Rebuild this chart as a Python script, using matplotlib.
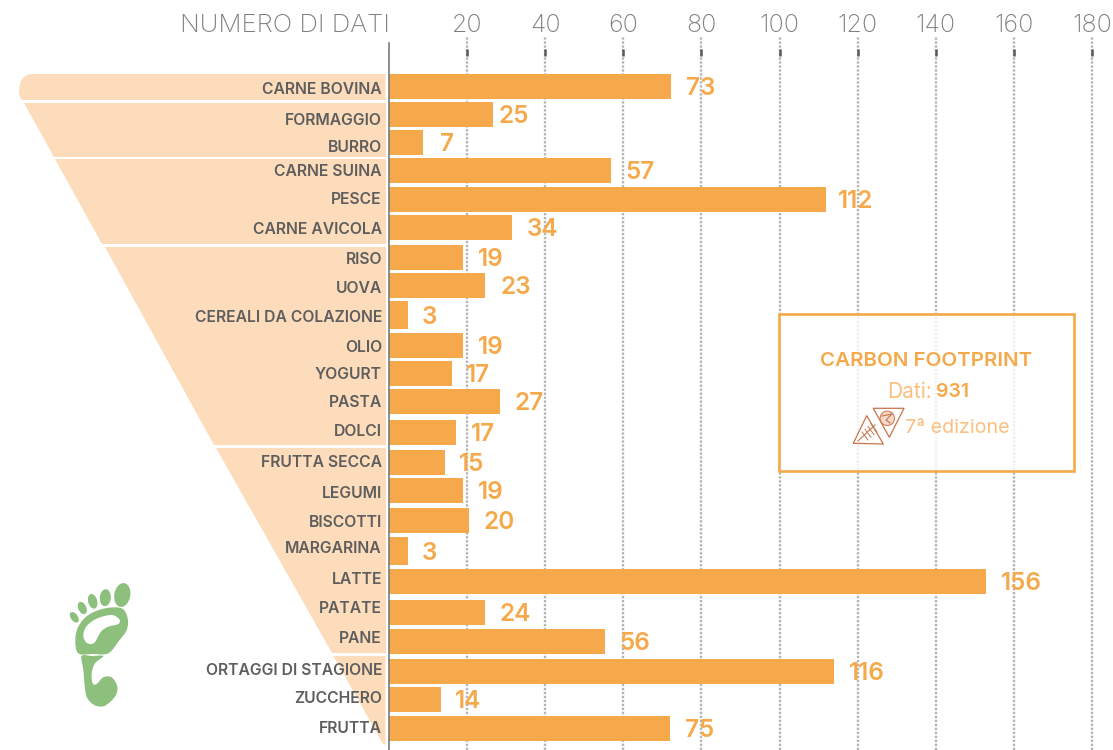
"""Carbon footprint: numero di dati per alimento."""

import matplotlib

matplotlib.use("Agg")
import matplotlib.pyplot as plt
import numpy as np
from matplotlib.patches import Circle, Ellipse, PathPatch, Polygon, Rectangle
from matplotlib.path import Path

plt.rcParams["font.family"] = ["Inter", "DejaVu Sans"]

categories = [
    "CARNE BOVINA", "FORMAGGIO", "BURRO", "CARNE SUINA", "PESCE", "CARNE AVICOLA",
    "RISO", "UOVA", "CEREALI DA COLAZIONE", "OLIO", "YOGURT", "PASTA", "DOLCI",
    "FRUTTA SECCA", "LEGUMI", "BISCOTTI", "MARGARINA", "LATTE", "PATATE", "PANE",
    "ORTAGGI DI STAGIONE", "ZUCCHERO", "FRUTTA",
]
# printed numbers
value_labels = [
    "73", "25", "7", "57", "112", "34", "19", "23", "3", "19", "17", "27", "17",
    "15", "19", "20", "3", "156", "24", "56", "116", "14", "75",
]
# bar lengths as read against the axis, they differ a little from the printed numbers
bar_lengths = [
    72.2, 26.6, 8.7, 56.8, 111.9, 31.5, 18.9, 24.6, 4.9, 18.9, 16.1, 28.4, 17.2,
    14.3, 18.9, 20.5, 4.9, 152.8, 24.6, 55.3, 113.9, 13.3, 71.9,
]
xticks = [20, 40, 60, 80, 100, 120, 140, 160, 180]

# layout in image pixels, rows of the original are not evenly spaced
row_top = [74, 102, 130, 158, 187, 215, 245, 273, 301, 333, 361, 389, 420, 450, 478,
           508, 537, 569, 600, 629, 659, 687, 716]
row_bottom = [99, 127, 155, 183, 212, 240, 270, 298, 329, 358, 386, 414, 445, 475,
              503, 533, 565, 594, 625, 654, 684, 712, 741]
label_y = [88, 119, 146, 170, 198, 228, 258, 287, 316, 346, 373, 401, 430, 461, 492,
           521, 547, 578, 607, 637, 669, 697, 727]
label_gap = [15, 6, 17, 15, 12, 15, 15, 15, 14, 15, 14, 15, 15, 14, 15, 14, 14, 15,
             14, 14, 15, 14, 15]

ORANGE = "#F6A94A"
PEACH = "#FDDCBB"
GREY = "#5E5E5E"
GREEN = "#8CC07C"
PALE = "#FBBF80"
W, H = 1113, 750
X0, PX_PER_UNIT = 389, 3.906
AX_TOP = 36


def smooth(points):
    """Closed Catmull-Rom curve through points, as path vertices and codes."""
    pts = np.asarray(points, dtype=float)
    verts, codes = [pts[0]], [Path.MOVETO]
    n = len(pts)
    for i in range(n):
        p0, p1, p2, p3 = pts[i - 1], pts[i], pts[(i + 1) % n], pts[(i + 2) % n]
        verts += [p1 + (p2 - p0) / 6, p2 - (p3 - p1) / 6, p2]
        codes += [Path.CURVE4] * 3
    return verts, codes


def foot_px(points):
    return np.array(points, dtype=float) / 3 + [40, 560]


fig = plt.figure(figsize=(W / 100, H / 100), dpi=100)

# background layer in pixel coordinates
bg = fig.add_axes([0, 0, 1, 1], zorder=0)
bg.set_xlim(0, W)
bg.set_ylim(H, 0)
bg.axis("off")

top_slice = Path(
    [(385.5, 74), (33, 74), (19, 74), (19, 88), (19, 94), (21.7, 100), (385.5, 100), (385.5, 74)],
    [Path.MOVETO, Path.LINETO, Path.CURVE4, Path.CURVE4, Path.CURVE4, Path.LINETO,
     Path.LINETO, Path.CLOSEPOLY],
)
bg.add_patch(PathPatch(top_slice, fc=PEACH, ec="none"))
slices = [
    [(24, 102.5), (385.5, 102.5), (385.5, 156.5), (54.3, 156.5)],
    [(55.3, 159), (385.5, 159), (385.5, 244), (102, 244)],
    [(105, 246.7), (385.5, 246.7), (385.5, 445), (214, 445)],
    [(216, 448), (385.5, 448), (385.5, 653), (332, 653)],
    [(333.5, 656), (385.5, 656), (385.5, 745), (383, 744)],
]
for pts in slices:
    bg.add_patch(Polygon(pts, closed=True, fc=PEACH, ec="none"))

for name, y in zip(categories, label_y):
    bg.text(382, y + 1.5, name, ha="right", va="center", fontsize=11.3, fontweight="semibold", color=GREY)

# footprint logo
toes = [
    (122.3, 595, 16, 24, 10),
    (105.3, 597.7, 11, 17, 5),
    (92.7, 601.3, 9, 15, -15),
    (82.3, 608, 8, 13, -25),
    (74.3, 617.3, 7, 12, -35),
]
for cx, cy, w, h, angle in toes:
    bg.add_patch(Ellipse((cx, cy), w, h, angle=angle, fc=GREEN, ec="none"))
outer = foot_px([(115, 280), (106, 240), (115, 200), (145, 165), (195, 145), (245, 145),
                 (263, 175), (260, 210), (235, 245), (205, 280), (160, 282)])
hole = foot_px([(130, 228), (140, 198), (172, 175), (215, 165), (238, 178), (235, 192),
                (205, 200), (183, 215), (163, 248), (142, 250)])[::-1]
v1, c1 = smooth(outer)
v2, c2 = smooth(hole)
bg.add_patch(PathPatch(Path(v1 + v2, c1 + c2), fc=GREEN, ec="none"))
heel = foot_px([(125, 288), (155, 288), (190, 288), (165, 310), (155, 340), (158, 370),
                (170, 372), (190, 352), (215, 352), (232, 380), (225, 410), (195, 437),
                (170, 438), (150, 425), (137, 400), (130, 330)])
v3, c3 = smooth(heel)
bg.add_patch(PathPatch(Path(v3, c3), fc=GREEN, ec="none"))

# chart layer
ax = fig.add_axes([X0 / W, 0, (W - X0) / W, (H - AX_TOP) / H], zorder=1)
ax.patch.set_visible(False)
ax.set_xlim(0, (W - X0) / PX_PER_UNIT)
ax.set_ylim(H, AX_TOP)

centers = [(t + b) / 2 for t, b in zip(row_top, row_bottom)]
heights = [b - t for t, b in zip(row_top, row_bottom)]
ax.barh(centers, bar_lengths, height=heights, color=ORANGE, zorder=3)
for length, y, text, gap in zip(bar_lengths, centers, value_labels, label_gap):
    ax.annotate(text, (length, y), xytext=(gap * 0.72, -1.6), textcoords="offset points",
                ha="left", va="center", fontsize=17.5, fontweight="semibold", color=ORANGE, zorder=4)

ax.set_xticks(xticks)
ax.xaxis.tick_top()
ax.tick_params(axis="x", length=0, pad=-1, labelsize=18, labelcolor="#7F7F7F")
for lab in ax.get_xticklabels():
    lab.set_fontweight("light")
ax.set_yticks([])
ax.grid(axis="x", color="#B5B5B5", linewidth=1.7, linestyle=(0, (1, 0.69)), zorder=1)
ax.set_axisbelow(True)
ax.vlines(xticks, 49, 56, color="#5A5A5A", linewidth=1.8, zorder=2)
for side in ("top", "right", "bottom"):
    ax.spines[side].set_visible(False)
ax.spines["left"].set_bounds(43, H)
ax.spines["left"].set_color("#7A7A7A")
ax.spines["left"].set_linewidth(1.2)
ax.spines["left"].set_zorder(5)

# foreground layer: title of the axis and the info box
top = fig.add_axes([0, 0, 1, 1], zorder=2)
top.set_xlim(0, W)
top.set_ylim(H, 0)
top.axis("off")
top.text(390, 26, "NUMERO DI DATI", ha="right", va="center", fontsize=18.5, fontweight="light", color="#7F7F7F")

top.add_patch(Rectangle((779, 313.5), 295, 157.5, fc=(1, 1, 1, 0.8), ec=ORANGE, lw=1.9))
top.text(926.5, 361, "CARBON FOOTPRINT", ha="center", va="center", fontsize=14.8, fontweight="semibold", color=ORANGE)
top.text(887, 392, "Dati:", ha="left", va="center", fontsize=15, fontweight="normal", color=PALE)
top.text(936, 392, "931", ha="left", va="center", fontsize=14, fontweight="semibold", color=ORANGE)
top.text(905, 428, "7ª edizione", ha="left", va="center", fontsize=14.2, fontweight="normal", color=PALE)

BROWN = "#C8744C"
top.add_patch(Polygon([(866.7, 415.7), (853.3, 443.3), (883.3, 444)], closed=True, fc="white", ec=BROWN, lw=0.9, joinstyle="round"))
top.add_patch(Polygon([(873.3, 408.3), (904, 408.3), (889.3, 437.3)], closed=True, fc="white", ec=BROWN, lw=0.9, joinstyle="round"))
top.add_patch(Circle((887.3, 418.3), 7.2, fc="#F3D9C8", ec=BROWN, lw=0.7))
top.plot([882, 892, 886, 890], [416, 414, 420, 423], color=BROWN, lw=0.8)
top.plot([858, 875], [441, 425], color=BROWN, lw=0.8)
for dx in (0, 3, 6, 9):
    top.plot([862 + dx, 868 + dx], [432 - dx * 0.9, 440 - dx * 0.9], color=BROWN, lw=0.7)

fig.savefig("out.png", dpi=100)
